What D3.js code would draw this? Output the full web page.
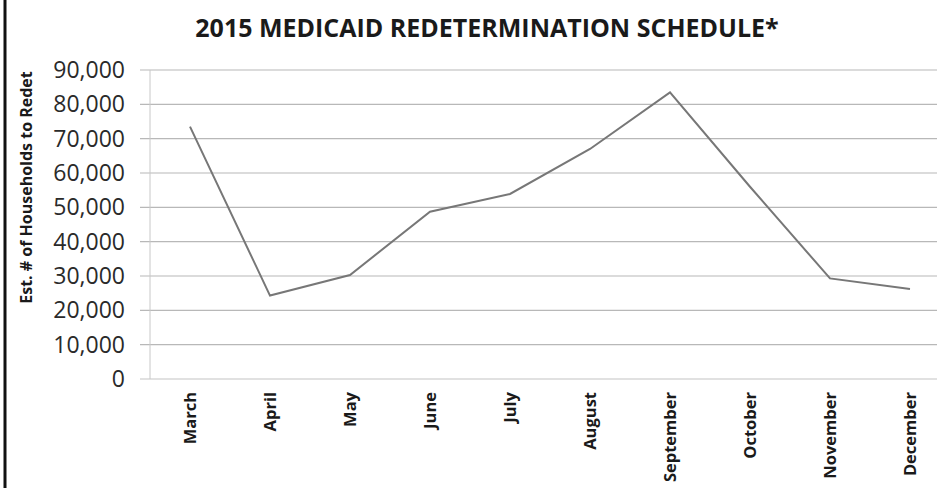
<!DOCTYPE html>
<html>
<head>
<meta charset="utf-8">
<script src="https://cdn.jsdelivr.net/npm/d3@7"></script>
<style>
  body { margin: 0; background: #fff; }
  svg { display: block; font-family: "Open Sans", "Liberation Sans", sans-serif; }
</style>
</head>
<body>
<div id="chart"></div>
<script>
// Data
var months = ["March", "April", "May", "June", "July", "August",
              "September", "October", "November", "December"];
var households = [73500, 24300, 30300, 48700, 53900, 67000, 83500, 56000, 29300, 26200];
var yTicks = [0, 10000, 20000, 30000, 40000, 50000, 60000, 70000, 80000, 90000];

var width = 937, height = 488;
var plot = {left: 150, right: 950, top: 70, bottom: 379};

var svg = d3.select("#chart").append("svg")
    .attr("width", width)
    .attr("height", height);

// Scales
var x = d3.scalePoint()
    .domain(months)
    .range([plot.left, plot.right])
    .padding(0.5);

var y = d3.scaleLinear()
    .domain([0, 90000])
    .range([plot.bottom, plot.top]);

// Left page border
svg.append("line")
    .attr("x1", 5).attr("x2", 5)
    .attr("y1", 0).attr("y2", height)
    .attr("stroke", "#111")
    .attr("stroke-width", 3);

// Title
svg.append("text")
    .attr("x", 487)
    .attr("y", 37)
    .attr("text-anchor", "middle")
    .style("font-size", "25px")
    .style("font-weight", "bold")
    .style("fill", "#1a1a1a")
    .text("2015 MEDICAID REDETERMINATION SCHEDULE*");

// Horizontal gridlines
svg.selectAll("line.grid").data(yTicks).enter()
  .append("line")
    .attr("class", "grid")
    .attr("x1", plot.left - 10)
    .attr("x2", width)
    .attr("y1", function(d) { return y(d); })
    .attr("y2", function(d) { return y(d); })
    .attr("stroke", function(d) { return d === 0 ? "#c4c4c4" : "#b8b8b8"; })
    .attr("stroke-width", 1.2);

// Vertical axis line
svg.append("line")
    .attr("x1", plot.left).attr("x2", plot.left)
    .attr("y1", plot.top).attr("y2", plot.bottom)
    .attr("stroke", "#c8c8c8")
    .attr("stroke-width", 1);

// Y axis labels
var fmt = d3.format(",");
svg.selectAll("text.ytick").data(yTicks).enter()
  .append("text")
    .attr("class", "ytick")
    .attr("x", 125)
    .attr("y", function(d) { return y(d); })
    .attr("dy", "0.35em")
    .attr("text-anchor", "end")
    .style("font-size", "23px")
    .style("fill", "#2a2a2a")
    .text(function(d) { return fmt(d); });

// Y axis title
svg.append("text")
    .attr("transform", "translate(32," + ((plot.top + 305) / 2) + ") rotate(-90)")
    .attr("text-anchor", "middle")
    .style("font-size", "16px")
    .style("font-weight", "bold")
    .style("fill", "#1a1a1a")
    .text("Est. # of Households to Redet");

// X axis labels (rotated)
svg.selectAll("text.xtick").data(months).enter()
  .append("text")
    .attr("class", "xtick")
    .attr("transform", function(d) { return "translate(" + x(d) + ",392) rotate(-90)"; })
    .attr("text-anchor", "end")
    .attr("dy", "0.35em")
    .style("font-size", "16.5px")
    .style("font-weight", "bold")
    .style("fill", "#1a1a1a")
    .text(function(d) { return d; });

// Data line
var line = d3.line()
    .x(function(d, i) { return x(months[i]); })
    .y(function(d) { return y(d); });

svg.append("path")
    .datum(households)
    .attr("fill", "none")
    .attr("stroke", "#777")
    .attr("stroke-width", 2)
    .attr("d", line);
</script>
</body>
</html>
